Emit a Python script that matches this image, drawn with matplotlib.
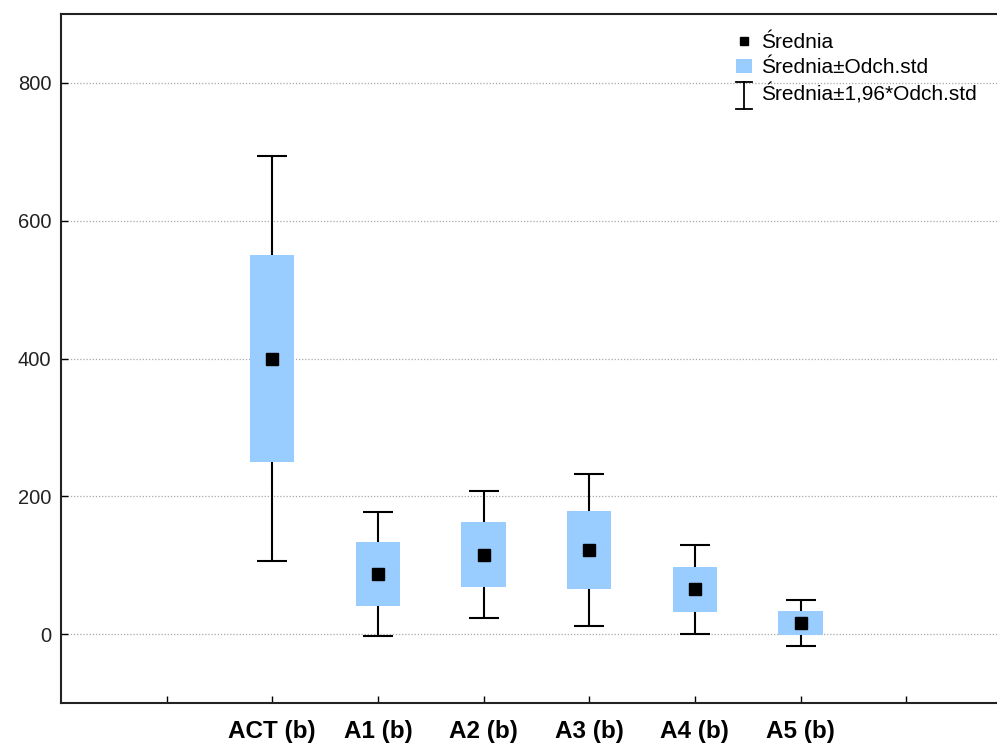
import matplotlib
matplotlib.use("Agg")
import matplotlib.pyplot as plt
from matplotlib.patches import Patch
from matplotlib.lines import Line2D
from matplotlib.legend_handler import HandlerBase
import numpy as np

plt.rcParams['font.family'] = ['Liberation Sans', 'DejaVu Sans']

categories = ["ACT (b)", "A1 (b)", "A2 (b)", "A3 (b)", "A4 (b)", "A5 (b)"]
means = [400, 87, 115, 122, 65, 16]
stds = [150, 46, 47, 56, 33, 17]
yticks = [0, 200, 400, 600, 800]

W, H = 997, 745
fig = plt.figure(figsize=(W / 100, H / 100), dpi=100)
ax = fig.add_axes([61 / W, 1 - 703 / H, 1 - 61 / W, (703 - 14) / H])

box_color = '#99CCFF'
pos = np.arange(1, len(categories) + 1)
m = np.array(means, dtype=float)
s = np.array(stds, dtype=float)

ax.bar(pos, 2 * s, bottom=m - s, width=0.42, color=box_color, edgecolor='none', zorder=3)
ax.errorbar(pos, m, yerr=1.96 * s, fmt='none', ecolor='black', elinewidth=1.5,
            capsize=11, capthick=1.5, zorder=2)
ax.plot(pos, m, linestyle='none', marker='s', ms=8.5, color='black', zorder=4)

ax.set_xlim(-1, 7.86)
ax.set_ylim(-100, 900)
ax.set_xticks(np.arange(0, 8))
ax.set_xticklabels([''] + categories + [''], fontweight='bold', fontsize=17.5)
ax.set_yticks(yticks)
ax.set_yticklabels([str(v) for v in yticks], fontsize=14.5, color='#222222')
ax.tick_params(axis='both', direction='in', length=5, width=1, pad=7)
ax.tick_params(axis='x', pad=12)

ax.yaxis.grid(True, linestyle=(0, (1, 1.5)), color='#a8a8a8', linewidth=0.9, zorder=0)
ax.set_axisbelow(True)
for side in ['left', 'top', 'bottom']:
    ax.spines[side].set_linewidth(1.5)
    ax.spines[side].set_color('#222222')
ax.spines['right'].set_visible(False)


class IBar:
    pass


class IBarHandler(HandlerBase):
    def create_artists(self, legend, orig_handle, xdescent, ydescent, width, height,
                       fontsize, trans):
        cx = width / 2 - xdescent
        cy = height / 2 - ydescent
        top = cy + 0.55 * fontsize
        bot = cy - 0.75 * fontsize
        hw = width / 2
        kw = dict(color='black', linewidth=1.3, transform=trans)
        return [Line2D([cx, cx], [bot, top], **kw),
                Line2D([cx - hw, cx + hw], [top, top], **kw),
                Line2D([cx - hw, cx + hw], [bot, bot], **kw)]


h_mean = Line2D([], [], linestyle='none', marker='s', ms=6, color='black')
h_box = Patch(facecolor=box_color, edgecolor='none')
h_bar = IBar()
leg = ax.legend([h_mean, h_box, h_bar],
                ['Średnia', 'Średnia±Odch.std', 'Średnia±1,96*Odch.std'],
                handler_map={IBar: IBarHandler()},
                loc='upper left', bbox_to_anchor=(736 / W, 1 - 33 / H),
                bbox_transform=fig.transFigure,
                frameon=False, fontsize=15, handlelength=0.77, handletextpad=0.45,
                labelspacing=0.3, borderaxespad=0, borderpad=0)

fig.savefig('out.png', dpi=100)
